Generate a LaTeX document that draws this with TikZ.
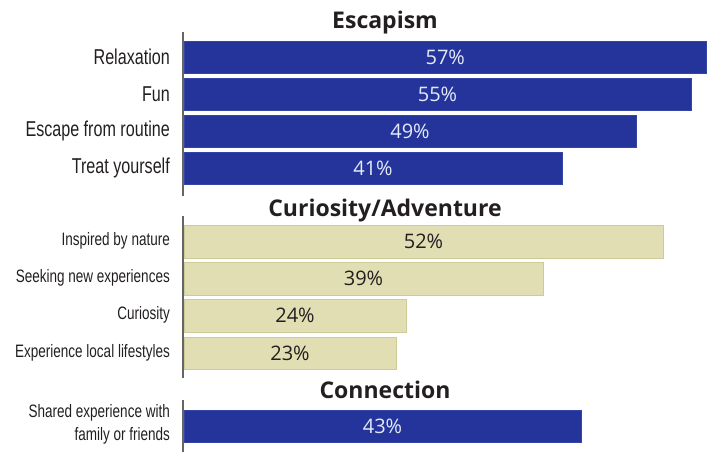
\documentclass[tikz,border=0pt]{standalone}
\usepackage{fontspec}
\setmainfont{Open Sans}
\newfontfamily\cond[FakeStretch=0.75]{Liberation Sans}
\newfontfamily\pct{Open Sans}
\definecolor{barblue}{HTML}{24349A}
\definecolor{barblueedge}{HTML}{3545A6}
\definecolor{khaki}{HTML}{E2DEB3}
\definecolor{khakiedge}{HTML}{CFCB98}
\definecolor{axisgray}{HTML}{666666}
\definecolor{txt}{HTML}{231F20}
\definecolor{pctblue}{HTML}{E4EAF8}
\begin{document}
\begin{tikzpicture}[x=1pt,y=-1pt,
  bluebar/.style={fill=barblue,draw=barblueedge,line width=0.8pt},
  khakibar/.style={fill=khaki,draw=khakiedge,line width=0.8pt},
  biglbl/.style={anchor=east,font=\cond\fontsize{21.5}{23}\selectfont,text=txt,inner sep=0pt},
  smalllbl/.style={anchor=east,font=\cond\fontsize{18}{23}\selectfont,text=txt,inner sep=0pt,align=right},
  bluepct/.style={font=\pct\fontsize{20}{22}\selectfont,text=pctblue,inner sep=0pt},
  khakipct/.style={font=\pct\fontsize{20}{22}\selectfont,text=txt,inner sep=0pt},
  title/.style={anchor=base,font=\bfseries\fontsize{23}{25}\selectfont,text=txt,inner sep=0pt},
  axisline/.style={draw=axisgray,line width=1.2pt}]
\useasboundingbox (0,0) rectangle (707,452);
% titles
\node[title] (t1) at (385,29) {Escapism};
\node[title] (t2) at (385,216) {Curiosity/Adventure};
\node[title] (t3) at (385,398) {Connection};
% axes
\coordinate (a1t) at (183,32); \coordinate (a1b) at (183,196);
\coordinate (a2t) at (183,216); \coordinate (a2b) at (183,378);
\coordinate (a3t) at (183,400); \coordinate (a3b) at (183,452);
\draw[axisline] (a1t) -- (a1b);
\draw[axisline] (a2t) -- (a2b);
\draw[axisline] (a3t) -- (a3b);
% Escapism bars
\path[bluebar] (184,41) rectangle (706.5,73) node[midway,bluepct] (p1) {57\%};
\path[bluebar] (184,78) rectangle (691,110) node[midway,bluepct] (p2) {55\%};
\path[bluebar] (184,115) rectangle (636,147) node[midway,bluepct] (p3) {49\%};
\path[bluebar] (184,152) rectangle (562,184) node[midway,bluepct] (p4) {41\%};
\node[biglbl] (l1) at (170,57) {Relaxation};
\node[biglbl] (l2) at (170,94) {Fun};
\node[biglbl] (l3) at (170,131) {Escape from routine};
\node[biglbl] (l4) at (170,168) {Treat yourself};
% Curiosity bars
\path[khakibar] (184,225) rectangle (663,258) node[midway,khakipct] (p5) {52\%};
\path[khakibar] (184,262) rectangle (543,295) node[midway,khakipct] (p6) {39\%};
\path[khakibar] (184,299) rectangle (406,332) node[midway,khakipct] (p7) {24\%};
\path[khakibar] (184,337) rectangle (396,369) node[midway,khakipct] (p8) {23\%};
\node[smalllbl] (l5) at (170,241) {Inspired by nature};
\node[smalllbl] (l6) at (170,278) {Seeking new experiences};
\node[smalllbl] (l7) at (170,315) {Curiosity};
\node[smalllbl] (l8) at (170,353) {Experience local lifestyles};
% Connection bar
\path[bluebar] (184,410) rectangle (581,442) node[midway,bluepct] (p9) {43\%};
\node[smalllbl] (l9) at (170,424) {Shared experience with\\family or friends};
\end{tikzpicture}
\end{document}
